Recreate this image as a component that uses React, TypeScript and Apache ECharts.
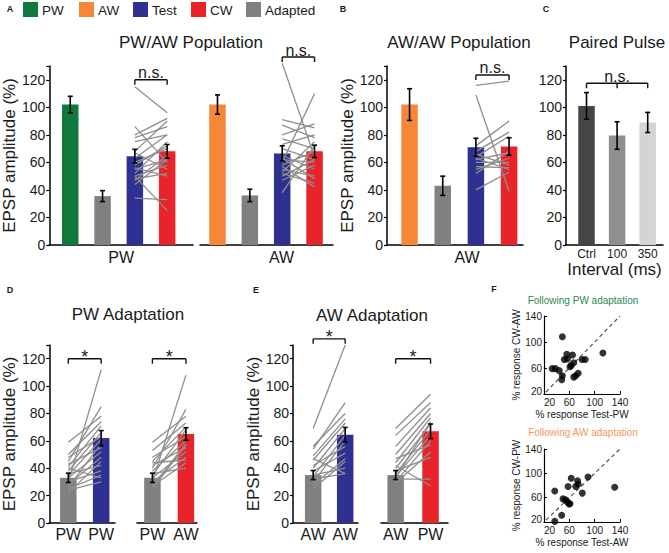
import React, { useEffect, useRef } from "react";
import * as echarts from "echarts";

const FONT = "'Liberation Sans', Arial, Helvetica, sans-serif";
const INK = "#1a1a1a";
const GREEN = "#107a3e";
const ORANGE = "#f78738";
const BLUE = "#2e3192";
const RED = "#e8232a";
const GRAY = "#808080";
const LINE_GRAY = "#8e8e8e";

// Legend
const legendNames = ["PW", "AW", "Test", "CW", "Adapted"];
const legendColors = [GREEN, ORANGE, BLUE, RED, GRAY];

// Panel A – PW/AW population
const aPwMeans = [102, 35.5, 64.5, 68];
const aPwErrors = [6, 4, 5, 5];
const aPwColors = [GREEN, GRAY, BLUE, RED];
const aPwPairs = [
  [115, 96], [86, 60], [80, 92], [78, 86], [75, 80], [68, 90], [67, 55], [63, 80], [60, 70], [58, 72],
  [55, 62], [52, 75], [50, 58], [48, 52], [47, 65], [44, 62], [34, 33], [50, 25], [56, 50],
];
const aAwMeans = [102, 36, 66.5, 68];
const aAwErrors = [7, 4.5, 5.5, 4.5];
const aAwColors = [ORANGE, GRAY, BLUE, RED];
const aAwPairs = [
  [132, 64], [91, 85], [87, 78], [80, 88], [77, 70], [73, 80], [70, 62], [65, 55], [62, 60], [60, 110],
  [58, 68], [55, 50], [53, 75], [52, 45], [50, 62], [47, 58], [38, 72], [57, 42], [63, 48],
];

// Panel B – AW/AW population
const bMeans = [102, 43, 71, 71.5];
const bErrors = [11.5, 7, 6.5, 6.3];
const bColors = [ORANGE, GRAY, BLUE, RED];
const bPairs = [
  [116, 119], [109, 39], [72, 90], [68, 82], [64, 79], [62, 67], [60, 60], [57, 56], [55, 63], [52, 68],
  [40, 53], [66, 58], [63, 55],
];

// Panel C – paired pulse
const cLabels = ["Ctrl", "100", "350"];
const cMeans = [101, 79.5, 89];
const cErrors = [9.7, 10, 7.3];
const cColors = ["#454545", "#8e8f90", "#d4d5d3"];

// Panel D – PW adaptation
const dLeftLabels = ["PW", "PW"];
const dLeftMeans = [33, 62];
const dLeftErrors = [3.4, 5.5];
const dLeftPairs = [
  [30, 112], [45, 85], [59, 78], [50, 74], [41, 71], [38, 66], [48, 63], [35, 61], [26, 58], [43, 55],
  [33, 52], [28, 48], [22, 45], [36, 42], [30, 38], [25, 35], [40, 33], [24, 30],
];
const dRightLabels = ["PW", "AW"];
const dRightMeans = [33, 65];
const dRightErrors = [3.4, 4.6];
const dRightPairs = [
  [30, 108], [40, 83], [59, 78], [53, 73], [45, 70], [35, 68], [48, 63], [38, 60], [27, 58], [42, 55],
  [33, 52], [30, 48], [44, 46], [27, 44], [36, 40], [25, 57],
];

// Panel E – AW adaptation
const eLeftLabels = ["AW", "AW"];
const eLeftMeans = [35, 64.5];
const eLeftErrors = [3.3, 5.3];
const eLeftPairs = [
  [69, 130], [54, 88], [56, 80], [49, 76], [46, 73], [40, 69], [34, 64], [30, 60], [42, 56], [38, 51],
  [47, 36], [28, 47], [32, 36], [35, 40], [25, 45],
];
const eRightLabels = ["AW", "PW"];
const eRightMeans = [35, 67];
const eRightErrors = [3.3, 5.3];
const eRightPairs = [
  [32, 32], [69, 94], [64, 88], [56, 84], [50, 80], [44, 77], [40, 72], [36, 68], [34, 64], [30, 60],
  [47, 57], [29, 52], [38, 48], [42, 27], [33, 74],
];

// Panel F – scatter
const fTicks = [20, 60, 100, 140];
const fPwTest = [49, 56, 52, 65, 33, 38, 44, 49, 48, 61, 67, 67, 70, 74, 80, 85, 113, 57, 63];
const fPwCw = [108, 81, 73, 80, 59, 59, 56, 48, 42, 62, 68, 46, 48, 52, 73, 73, 83, 74, 64];
const fAwTest = [37, 37, 48, 50, 54, 57, 59.5, 58, 63, 70, 73, 74, 80.5, 89.5, 131.6, 61];
const fAwCw = [71, 21, 31, 58, 56.6, 53, 49.5, 78.5, 92, 78.5, 87.8, 82, 67.5, 94, 77, 50];
const identityLine = [20, 140];

type Panel = {
  left: number; top: number; width: number; height: number;
  xMin: number; xMax: number; showY: boolean;
  xName?: string; xNamePad?: number; xLabels?: string[]; xLabelSize?: number; xLabelMargin?: number;
  xTitle?: string;
};

const panels: Panel[] = [
  { left: 49, top: 66, width: 144, height: 179, xMin: 0.35, xMax: 4.8, showY: true, xName: "PW", xNamePad: 0 },
  { left: 200, top: 66, width: 133, height: 179, xMin: 0.46, xMax: 4.57, showY: false, xName: "AW", xNamePad: 30 },
  { left: 387, top: 66, width: 136, height: 179, xMin: 0.32, xMax: 4.42, showY: true, xName: "AW", xNamePad: 24 },
  { left: 566, top: 66, width: 97, height: 179, xMin: 0.33, xMax: 3.5, showY: false, xLabels: cLabels, xLabelSize: 12, xLabelMargin: 3, xTitle: "Interval (ms)" },
  { left: 49, top: 345, width: 66, height: 178, xMin: 0.42, xMax: 2.42, showY: true, xLabels: dLeftLabels, xLabelSize: 16, xLabelMargin: 3 },
  { left: 137, top: 345, width: 60, height: 178, xMin: 0.54, xMax: 2.33, showY: false, xLabels: dRightLabels, xLabelSize: 16, xLabelMargin: 3 },
  { left: 293, top: 345, width: 65, height: 178, xMin: 0.37, xMax: 2.4, showY: true, xLabels: eLeftLabels, xLabelSize: 16, xLabelMargin: 3 },
  { left: 381, top: 345, width: 67, height: 178, xMin: 0.58, xMax: 2.5, showY: false, xLabels: eRightLabels, xLabelSize: 16, xLabelMargin: 3 },
];

const AXIS_LINE = { show: true, lineStyle: { color: "#000", width: 1.5 } };

function barSeries(g: number, means: number[], colors: string[]) {
  return {
    type: "bar", xAxisIndex: g, yAxisIndex: g, barWidth: 16.5, z: 2,
    data: means.map((m, i) => ({ value: [i + 1, m], itemStyle: { color: colors[i] } })),
  };
}

function errorSeries(g: number, means: number[], errs: number[]) {
  return {
    type: "custom", xAxisIndex: g, yAxisIndex: g, z: 6, clip: false,
    data: means.map((m, i) => [i + 1, m - errs[i], m + errs[i]]),
    encode: { x: 0, y: [1, 2] },
    renderItem: (_p: any, api: any) => {
      const x = api.value(0);
      const lo = api.coord([x, api.value(1)]);
      const hi = api.coord([x, api.value(2)]);
      const c = 2.5;
      const st = { stroke: "#000", lineWidth: 1.6 };
      return {
        type: "group",
        children: [
          { type: "line", shape: { x1: lo[0], y1: lo[1], x2: hi[0], y2: hi[1] }, style: st },
          { type: "line", shape: { x1: lo[0] - c, y1: lo[1], x2: lo[0] + c, y2: lo[1] }, style: st },
          { type: "line", shape: { x1: hi[0] - c, y1: hi[1], x2: hi[0] + c, y2: hi[1] }, style: st },
        ],
      };
    },
  };
}

function pairSeries(g: number, from: number, to: number, pairs: number[][]) {
  return {
    type: "custom", xAxisIndex: g, yAxisIndex: g, z: 4, clip: false,
    data: pairs.map((p) => [from, p[0], to, p[1]]),
    encode: { x: [0, 2], y: [1, 3] },
    renderItem: (_p: any, api: any) => {
      const a = api.coord([api.value(0), api.value(1)]);
      const b = api.coord([api.value(2), api.value(3)]);
      return {
        type: "line",
        shape: { x1: a[0], y1: a[1], x2: b[0], y2: b[1] },
        style: { stroke: LINE_GRAY, lineWidth: 1.3 },
      };
    },
  };
}

function bracketSeries(g: number, ticks: number[], level: number, label: string) {
  const isStar = label === "*";
  return {
    type: "custom", xAxisIndex: g, yAxisIndex: g, z: 6, clip: false,
    data: [[ticks[0], level]],
    encode: { x: 0, y: 1 },
    renderItem: (_p: any, api: any) => {
      const pts = ticks.map((t) => api.coord([t, level]));
      const l = pts[0];
      const r = pts[pts.length - 1];
      const st = { stroke: "#111", lineWidth: 1.4 };
      const children: any[] = [
        { type: "line", shape: { x1: l[0], y1: l[1], x2: r[0], y2: r[1] }, style: st },
        ...pts.map((p) => ({ type: "line", shape: { x1: p[0], y1: p[1], x2: p[0], y2: p[1] + 5 }, style: st })),
        {
          type: "text",
          style: {
            text: label, x: (l[0] + r[0]) / 2, y: l[1] - (isStar ? 2 : 7),
            fill: INK, font: `${isStar ? 18 : 16}px ${FONT}`,
            textAlign: "center", align: "center", textVerticalAlign: "middle", verticalAlign: "middle",
          },
        },
      ];
      return { type: "group", children };
    },
  };
}

function txt(text: string, x: number, y: number, size: number, opts: any = {}) {
  return {
    type: "text", x, y, silent: true,
    style: {
      text, fill: opts.fill || INK, font: `${opts.bold ? "bold " : ""}${size}px ${FONT}`,
      textAlign: opts.align || "center", align: opts.align || "center",
      textVerticalAlign: "middle", verticalAlign: "middle",
    },
  };
}

export default function App() {
  const ref = useRef<HTMLDivElement>(null);
  useEffect(() => {
    if (!ref.current) return;
    const chart = echarts.init(ref.current, null, { renderer: "svg" });

    const grids: any[] = panels.map((p) => ({ left: p.left, top: p.top, width: p.width, height: p.height }));
    grids.push({ left: 544, top: 316, width: 76, height: 78 });
    grids.push({ left: 544, top: 449, width: 76, height: 73 });

    const xAxes: any[] = panels.map((p, i) => ({
      type: "value", gridIndex: i, min: p.xMin, max: p.xMax,
      axisLine: AXIS_LINE, axisTick: { show: false }, splitLine: { show: false },
      axisLabel: p.xLabels
        ? {
            show: true, customValues: p.xLabels.map((_, k) => k + 1),
            formatter: (v: number) => p.xLabels![Math.round(v) - 1] ?? "",
            fontSize: p.xLabelSize, color: INK, fontFamily: FONT, margin: p.xLabelMargin,
          }
        : { show: false },
      name: p.xName ?? p.xTitle ?? "",
      nameLocation: "middle",
      nameGap: p.xTitle ? 16 : 4,
      nameTextStyle: {
        fontSize: p.xTitle ? 17 : 16, color: INK, fontFamily: FONT,
        padding: [0, 0, 0, p.xNamePad ?? 0], verticalAlign: "top",
      },
    }));

    const yAxes: any[] = panels.map((p, i) => ({
      type: "value", gridIndex: i, min: 0, max: 130, interval: 20, show: p.showY || i === 3,
      axisLine: AXIS_LINE,
      axisTick: { show: true, length: 3, lineStyle: { color: "#000", width: 1.2 } },
      splitLine: { show: false },
      axisLabel: {
        fontSize: 14, color: INK, fontFamily: FONT, margin: 4,
        formatter: (v: number) => (v > 120 ? "" : String(v)),
      },
      name: p.showY ? "EPSP amplitude (%)" : "",
      nameLocation: "middle", nameGap: 27,
      nameTextStyle: { fontSize: 17, color: INK, fontFamily: FONT },
    }));

    const fAxis = (grid: number, name: string, isY: boolean) => ({
      type: "value", gridIndex: grid, min: 20, max: 140,
      axisLine: { show: true, lineStyle: { color: "#000", width: 1.2 } },
      axisTick: { show: true, inside: true, length: 3, customValues: fTicks, lineStyle: { color: "#000" } },
      splitLine: { show: false },
      axisLabel: isY
        ? {
            customValues: fTicks, fontSize: 10, color: INK, fontFamily: FONT, margin: 2,
            formatter: (v: number) => (v === fTicks[0] ? `{lo|${v}}` : String(v)),
            rich: { lo: { fontSize: 10, fontFamily: FONT, color: INK, padding: [0, 0, 6, 0] } },
          }
        : { customValues: fTicks, fontSize: 10, color: INK, fontFamily: FONT, margin: 3, alignMinLabel: "left" },
      name, nameLocation: "middle", nameGap: isY ? 22 : 15,
      nameTextStyle: { fontSize: 10, color: INK, fontFamily: FONT },
    });
    xAxes.push(fAxis(8, "% response Test-PW", false));
    xAxes.push(fAxis(9, "% response Test-AW", false));
    yAxes.push(fAxis(8, "% response CW-AW", true));
    yAxes.push(fAxis(9, "% response CW-PW", true));

    const series: any[] = [
      barSeries(0, aPwMeans, aPwColors), pairSeries(0, 3, 4, aPwPairs), errorSeries(0, aPwMeans, aPwErrors),
      bracketSeries(0, [3, 4], 120, "n.s."),
      barSeries(1, aAwMeans, aAwColors), pairSeries(1, 3, 4, aAwPairs), errorSeries(1, aAwMeans, aAwErrors),
      bracketSeries(1, [3, 4], 136.5, "n.s."),
      barSeries(2, bMeans, bColors), pairSeries(2, 3, 4, bPairs), errorSeries(2, bMeans, bErrors),
      bracketSeries(2, [3, 4], 123.5, "n.s."),
      barSeries(3, cMeans, cColors), errorSeries(3, cMeans, cErrors),
      bracketSeries(3, [1, 2, 3], 117.5, "n.s."),
      barSeries(4, dLeftMeans, [GRAY, BLUE]), pairSeries(4, 1, 2, dLeftPairs), errorSeries(4, dLeftMeans, dLeftErrors),
      bracketSeries(4, [1, 2], 120, "*"),
      barSeries(5, dRightMeans, [GRAY, RED]), pairSeries(5, 1, 2, dRightPairs), errorSeries(5, dRightMeans, dRightErrors),
      bracketSeries(5, [1, 2], 120, "*"),
      barSeries(6, eLeftMeans, [GRAY, BLUE]), pairSeries(6, 1, 2, eLeftPairs), errorSeries(6, eLeftMeans, eLeftErrors),
      bracketSeries(6, [1, 2], 134.5, "*"),
      barSeries(7, eRightMeans, [GRAY, RED]), pairSeries(7, 1, 2, eRightPairs), errorSeries(7, eRightMeans, eRightErrors),
      bracketSeries(7, [1, 2], 120, "*"),
      {
        type: "line", xAxisIndex: 8, yAxisIndex: 8, showSymbol: false, z: 1,
        data: [[identityLine[0] + 3, identityLine[0] + 3], [identityLine[1], identityLine[1]]],
        lineStyle: { color: "#555", width: 1.2, type: [4, 3] },
      },
      {
        type: "scatter", xAxisIndex: 8, yAxisIndex: 8, symbolSize: 7, z: 3,
        itemStyle: { color: "#000" },
        data: fPwTest.map((x, i) => [x, fPwCw[i]]),
      },
      {
        type: "line", xAxisIndex: 9, yAxisIndex: 9, showSymbol: false, z: 1,
        data: [[identityLine[0] + 3, identityLine[0] + 3], [identityLine[1], identityLine[1]]],
        lineStyle: { color: "#555", width: 1.2, type: [4, 3] },
      },
      {
        type: "scatter", xAxisIndex: 9, yAxisIndex: 9, symbolSize: 7, z: 3, clip: false,
        itemStyle: { color: "#000" },
        data: fAwTest.map((x, i) => [x, fAwCw[i]]),
      },
    ];

    const legendX = [23, 79, 133, 191, 246];
    const graphic: any[] = [
      txt("A", 10, 9, 9, { bold: true }),
      txt("B", 343, 9, 9, { bold: true }),
      txt("C", 546, 9, 9, { bold: true }),
      txt("D", 10, 290, 9, { bold: true }),
      txt("E", 256, 290, 9, { bold: true }),
      txt("F", 494, 289, 9, { bold: true }),
      txt("PW/AW Population", 191, 42, 17),
      txt("AW/AW Population", 459, 42, 17),
      txt("Paired Pulse", 617, 42, 17),
      txt("PW Adaptation", 128, 314, 17),
      txt("AW Adaptation", 372, 315, 17),
      txt("Following PW adaptation", 583, 300, 10, { fill: "#2a8a50" }),
      txt("Following AW adaptation", 583, 432, 10, { fill: "#f5975a" }),
    ];
    legendNames.forEach((n, i) => {
      graphic.push({
        type: "rect", silent: true,
        shape: { x: legendX[i], y: 2, width: 15, height: 15 },
        style: { fill: legendColors[i] },
      });
      graphic.push(txt(n, legendX[i] + 19, 10, 13.5, { align: "left" }));
    });

    chart.setOption({
      animation: false,
      backgroundColor: "#fff",
      textStyle: { fontFamily: FONT },
      grid: grids,
      xAxis: xAxes,
      yAxis: yAxes,
      series,
      graphic,
    });
    return () => chart.dispose();
  }, []);

  return (
    <div
      ref={ref}
      style={{ position: "fixed", left: 0, top: 0, width: 669, height: 553, background: "#fff" }}
    />
  );
}
